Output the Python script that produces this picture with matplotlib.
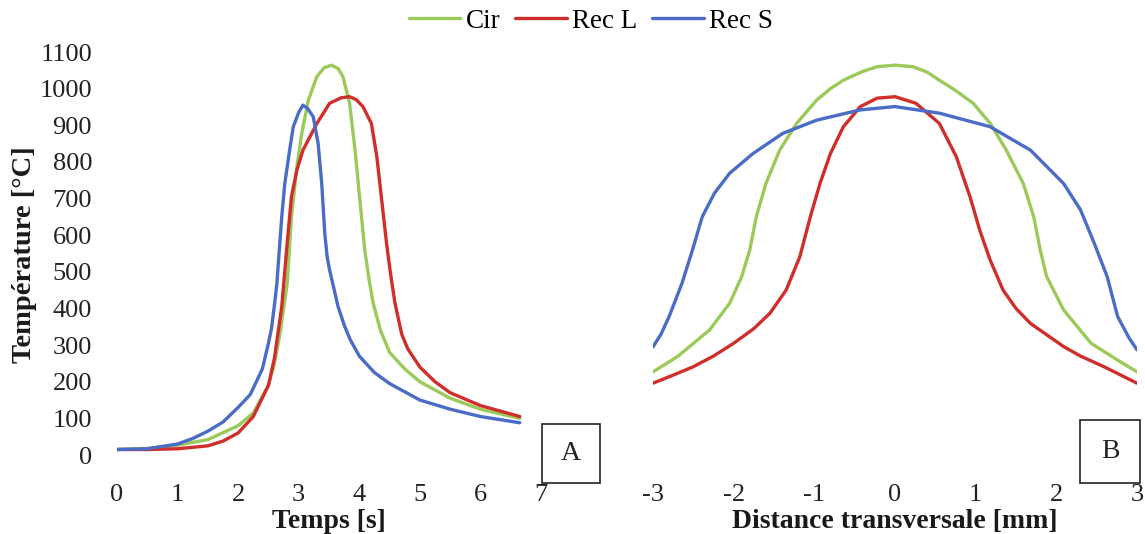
import numpy as np
import matplotlib
matplotlib.use('Agg')
import matplotlib.pyplot as plt
from matplotlib.patches import Rectangle

plt.rcParams['font.family'] = ['Liberation Serif', 'DejaVu Serif']
plt.rcParams['axes.unicode_minus'] = False

# Series names and colours
names = ['Cir', 'Rec L', 'Rec S']
colors = ['#9bc95a', '#cf2e2a', '#4a6cc6']

# A: thermal cycles, temperature vs time
t_cir = [0, 0.5, 1, 1.5, 2, 2.25, 2.5, 2.6, 2.7, 2.81, 2.88, 2.97, 3.05, 3.16,
         3.3, 3.42, 3.54, 3.65, 3.73, 3.84, 3.93, 4.01, 4.09, 4.16, 4.23, 4.35,
         4.5, 4.75, 5, 5.5, 6, 6.65]
T_cir = [15, 18, 27, 42, 80, 115, 190, 250, 340, 469, 650, 787, 878, 969,
         1033, 1057, 1064, 1055, 1033, 960, 832, 696, 560, 480, 414, 340,
         280, 235, 200, 155, 125, 100]

t_recl = [0, 0.5, 1, 1.5, 1.75, 2, 2.25, 2.5, 2.6, 2.72, 2.8, 2.88, 2.97, 3.07,
          3.3, 3.51, 3.7, 3.84, 3.95, 4.06, 4.2, 4.29, 4.37, 4.45, 4.52, 4.59,
          4.7, 4.8, 5.0, 5.25, 5.5, 6, 6.65]
T_recl = [15, 15, 17, 25, 38, 60, 105, 190, 265, 405, 560, 705, 778, 832,
          905, 960, 975, 978, 970, 951, 905, 814, 696, 578, 490, 414,
          330, 290, 240, 200, 170, 135, 105]

t_recs = [0, 0.5, 1, 1.25, 1.5, 1.75, 2, 2.2, 2.4, 2.5, 2.55, 2.6, 2.64, 2.68,
          2.72, 2.77, 2.85, 2.91, 3.0, 3.07, 3.15, 3.24, 3.32, 3.38, 3.43, 3.47,
          3.51, 3.58, 3.65, 3.75, 3.85, 4.0, 4.25, 4.5, 5, 5.5, 6, 6.65]
T_recs = [15, 17, 30, 45, 65, 90, 130, 165, 235, 305, 345, 410, 469, 560,
          650, 741, 832, 896, 935, 955, 945, 923, 851, 741, 605, 540,
          505, 455, 405, 355, 315, 270, 225, 195, 150, 125, 105, 88]

# B: peak temperature vs transverse distance
x_cir = [-3, -2.7, -2.3, -2.05, -1.9, -1.8, -1.72, -1.6, -1.43, -1.22, -0.97,
         -0.8, -0.64, -0.4, -0.22, 0, 0.22, 0.4, 0.55, 0.75, 0.97, 1.18, 1.38,
         1.59, 1.72, 1.8, 1.88, 2.09, 2.43, 2.76, 3]
P_cir = [227, 268, 341, 414, 487, 560, 650, 741, 832, 905, 969,
         1000, 1023, 1047, 1060, 1064, 1060, 1045, 1023, 995, 960, 905, 832,
         741, 650, 560, 487, 396, 305, 259, 227]

x_recl = [-3, -2.75, -2.5, -2.25, -2, -1.75, -1.55, -1.35, -1.18, -1.05, -0.93,
          -0.8, -0.64, -0.43, -0.22, 0, 0.26, 0.55, 0.76, 0.93, 1.05, 1.18, 1.34,
          1.5, 1.68, 2.09, 2.3, 2.59, 2.8, 3]
P_recl = [196, 218, 241, 270, 305, 345, 387, 450, 541, 650, 741,
          823, 896, 951, 974, 978, 960, 905, 814, 705, 614, 532, 450,
          400, 359, 296, 270, 241, 218, 196]

x_recs = [-3, -2.9, -2.8, -2.64, -2.51, -2.39, -2.24, -2.05, -1.76, -1.39, -0.97,
          -0.43, 0, 0.55, 1.18, 1.68, 2.09, 2.3, 2.47, 2.63, 2.76, 2.9, 3]
P_recs = [295, 330, 378, 469, 560, 650, 714, 769, 823, 878, 914,
          942, 951, 933, 896, 832, 741, 669, 578, 487, 378, 320, 287]

left_series = [(t_cir, T_cir), (t_recl, T_recl), (t_recs, T_recs)]
right_series = [(x_cir, P_cir), (x_recl, P_recl), (x_recs, P_recs)]

W, H = 1145, 534
fig = plt.figure(figsize=(W / 100, H / 100), dpi=100)
axA = fig.add_axes([117 / W, 1 - 455 / H, 424 / W, 403 / H])
axB = fig.add_axes([653 / W, 1 - 455 / H, 484 / W, 403 / H])

handles = []
for (x, y), c, n in zip(left_series, colors, names):
    h, = axA.plot(x, y, color=c, lw=2.4, solid_capstyle='round',
                  solid_joinstyle='round', label=n)
    handles.append(h)
for (x, y), c in zip(right_series, colors):
    axB.plot(x, y, color=c, lw=2.4, solid_capstyle='round', solid_joinstyle='round')

label_font = dict(fontsize=20, fontweight='bold', color='#1a1a1a')

axA.set_xlim(0, 7)
axA.set_ylim(0, 1100)
axA.set_xticks(range(0, 8))
axA.set_yticks(range(0, 1101, 100))
axA.set_xlabel('Temps [s]', va='center', **label_font)
axA.set_ylabel('Température [°C]', fontsize=20.5, fontweight='bold',
               color='#1a1a1a', va='center')
axA.xaxis.set_label_coords(0.5, -67 / 403)
axA.yaxis.set_label_coords(-92 / 424, 200 / 403)

axB.set_xlim(-3, 3)
axB.set_ylim(0, 1100)
axB.set_xticks(range(-3, 4))
axB.set_yticks([])
axB.set_xlabel('Distance transversale [mm]', va='center', **label_font)
axB.xaxis.set_label_coords(0.5, -67 / 403)

for ax in (axA, axB):
    for s in ax.spines.values():
        s.set_visible(False)
    ax.tick_params(axis='both', length=0, labelsize=19, colors='#222222')
    ax.tick_params(axis='x', pad=21)
    ax.tick_params(axis='y', pad=18)
    ax.patch.set_alpha(0)

# panel tags
for (x0, y0, w, h), tag in [((542, 424, 58, 59), 'A'), ((1080, 420, 60, 63), 'B')]:
    fig.add_artist(Rectangle((x0 / W, 1 - (y0 + h) / H), w / W, h / H,
                             transform=fig.transFigure, fill=False,
                             edgecolor='#222222', lw=1.2))
    fig.text((x0 + w / 2) / W, 1 - (y0 + h / 2) / H, tag, fontsize=20,
             ha='center', va='center', color='#222222')

fig.legend(handles=handles, labels=names, loc='center', ncol=3, frameon=False,
           bbox_to_anchor=(591 / W, 1 - 21 / H), fontsize=19.5,
           handlelength=1.9, handletextpad=0.2, columnspacing=0.55)

fig.savefig('out.png', dpi=100)
